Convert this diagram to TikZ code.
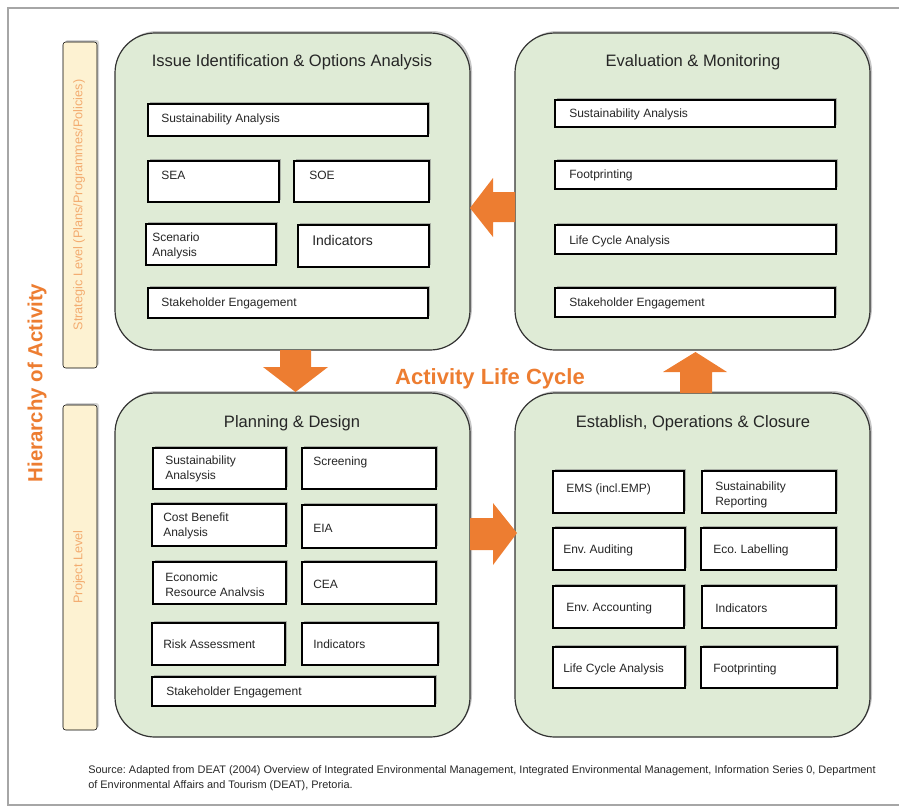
\documentclass[tikz,border=0pt]{standalone}
\usepackage{xcolor}
\usepackage{fontspec}
\setmainfont{Liberation Sans}
\usepackage{tikz}
\usetikzlibrary{shadows}
\frenchspacing

\definecolor{stagegreen}{RGB}{223,235,214}
\definecolor{cycleorange}{RGB}{237,125,49}
\definecolor{levelcream}{RGB}{253,242,210}
\definecolor{leveltext}{RGB}{243,172,112}

\begin{document}
\begin{tikzpicture}[x=0.75pt,y=0.75pt,yscale=-1,xscale=1,
  stagebox/.style={draw=black!80,fill=stagegreen,line width=0.9pt,rounded corners=30pt,
    drop shadow={shadow xshift=1.5pt,shadow yshift=1.5pt,opacity=0.45}},
  itembox/.style={draw=black,fill=white,line width=0.9pt,
    drop shadow={shadow xshift=1.6pt,shadow yshift=1.6pt,opacity=0.55}},
  levelbar/.style={fill=levelcream,rounded corners=2pt,
    drop shadow={shadow xshift=1.5pt,shadow yshift=1.5pt,opacity=0.35}},
  blockarrow/.style={fill=cycleorange,draw=none},
  stagetitle/.style={inner sep=0pt,font=\fontsize{12.4}{14}\selectfont,text=black!85},
  itemtext/.style={anchor=west,inner sep=0pt,align=left,font=\fontsize{9}{11.5}\selectfont,text=black!85},
  leveltitle/.style={inner sep=0pt,rotate=90,font=\fontsize{9.5}{11}\selectfont,text=leveltext}]
%set diagram to the size of the reference
\useasboundingbox (0,0) rectangle (899,808);

%Frame
\draw [color=black!35,line width=0.8pt] (899,8) -- (8,8) -- (8,805) -- (899,805) ;

%Level bars
\draw [levelbar] (63,42) rectangle (97,368) ;
\draw [levelbar] (63,405) rectangle (97,730) ;
% Text Node
\draw (79,205) node [leveltitle] (strategic) {Strategic Level (Plans/Programmes/Policies)};
% Text Node
\draw (79,567) node [leveltitle] (project) {Project Level};
% Text Node
\draw (37,383) node [inner sep=0pt,rotate=90,font=\fontsize{15.3}{17}\selectfont\bfseries,text=cycleorange] (hierarchy) {Hierarchy of Activity};

%Stage boxes
\draw [stagebox] (115,33) rectangle (470,350) ;
\draw [stagebox] (515,33) rectangle (870,350) ;
\draw [stagebox] (115,393) rectangle (470,737) ;
\draw [stagebox] (515,393) rectangle (870,737) ;

%Block arrows
\draw [blockarrow] (280,350) -- (311,350) -- (311,367) -- (328,367) -- (295.5,392) -- (263,367) -- (280,367) -- cycle ;
\draw [blockarrow] (515,192) -- (493,192) -- (493,178) -- (470,208) -- (493,237) -- (493,222) -- (515,222) -- cycle ;
\draw [blockarrow] (680,393) -- (712,393) -- (712,372) -- (727,372) -- (695.5,352) -- (663,372) -- (680,372) -- cycle ;
\draw [blockarrow] (470,518) -- (493,518) -- (493,503) -- (517,533) -- (493,565) -- (493,550) -- (470,550) -- cycle ;

% Text Node
\draw (490,379) node [inner sep=0pt,font=\fontsize{16.5}{18}\selectfont\bfseries,text=cycleorange] (lifecycle) {Activity Life Cycle};

%Issue Identification & Options Analysis
\draw (292,62) node [stagetitle] (issue) {Issue Identification \& Options Analysis};
\draw [itembox] (148,104) rectangle (428,136) ;
\draw (161,119) node [itemtext] (issuesust) {Sustainability Analysis};
\draw [itembox] (148,161) rectangle (279,202) ;
\draw (161,175) node [itemtext] (issuesea) {SEA};
\draw [itembox] (294,161) rectangle (429,202) ;
\draw (309,175) node [itemtext] (issuesoe) {SOE};
\draw [itembox] (146,224) rectangle (276,265) ;
\draw (152,246) node [itemtext,font=\fontsize{9}{11.2}\selectfont] (issuescen) {Scenario\\Analysis};
\draw [itembox] (298,225) rectangle (429,267) ;
\draw (312,240) node [itemtext,font=\fontsize{10.5}{12}\selectfont] (issueind) {Indicators};
\draw [itembox] (148,288) rectangle (428,318) ;
\draw (161,303) node [itemtext] (issuestake) {Stakeholder Engagement};

%Evaluation & Monitoring
\draw (693,62) node [stagetitle] (evaluation) {Evaluation \& Monitoring};
\draw [itembox] (555,100) rectangle (835,127) ;
\draw (569,114) node [itemtext] (evalsust) {Sustainability Analysis};
\draw [itembox] (555,161) rectangle (836,189) ;
\draw (569,175) node [itemtext] (evalfoot) {Footprinting};
\draw [itembox] (555,225) rectangle (836,254) ;
\draw (569,241) node [itemtext] (evallca) {Life Cycle Analysis};
\draw [itembox] (555,288) rectangle (835,317) ;
\draw (569,303) node [itemtext] (evalstake) {Stakeholder Engagement};

%Planning & Design
\draw (292,423) node [stagetitle] (planning) {Planning \& Design};
\draw [itembox] (153,448) rectangle (286,489) ;
\draw (165,469) node [itemtext] (plansust) {Sustainability\\Analsysis};
\draw [itembox] (302,448) rectangle (436,489) ;
\draw (313,462) node [itemtext] (planscreen) {Screening};
\draw [itembox] (152,504) rectangle (286,546) ;
\draw (163,526) node [itemtext] (plancba) {Cost Benefit\\Analysis};
\draw [itembox] (302,505) rectangle (436,548) ;
\draw (313,528) node [itemtext] (planeia) {EIA};
\draw [itembox] (153,562) rectangle (286,604) ;
\draw (165,585) node [itemtext] (planera) {Economic\\Resource Analvsis};
\draw [itembox] (302,562) rectangle (436,604) ;
\draw (313,584) node [itemtext] (plancea) {CEA};
\draw [itembox] (152,623) rectangle (285,665) ;
\draw (163,644) node [itemtext] (planrisk) {Risk Assessment};
\draw [itembox] (302,623) rectangle (438,665) ;
\draw (313,644) node [itemtext] (planind) {Indicators};
\draw [itembox] (152,677) rectangle (435,706) ;
\draw (166,692) node [itemtext] (planstake) {Stakeholder Engagement};

%Establish, Operations & Closure
\draw (693,423) node [stagetitle] (establish) {Establish, Operations \& Closure};
\draw [itembox] (553,471) rectangle (684,513) ;
\draw (566,489) node [itemtext] (estems) {EMS (incl.EMP)};
\draw [itembox] (702,471) rectangle (836,513) ;
\draw (715,495) node [itemtext] (estrep) {Sustainability\\Reporting};
\draw [itembox] (553,528) rectangle (685,570) ;
\draw (563,550) node [itemtext] (estaud) {Env. Auditing};
\draw [itembox] (701,528) rectangle (836,570) ;
\draw (713,550) node [itemtext] (estlab) {Eco. Labelling};
\draw [itembox] (553,586) rectangle (684,628) ;
\draw (566,608) node [itemtext] (estacc) {Env. Accounting};
\draw [itembox] (702,586) rectangle (836,628) ;
\draw (715,608) node [itemtext] (estind) {Indicators};
\draw [itembox] (553,647) rectangle (685,688) ;
\draw (563,669) node [itemtext] (estlca) {Life Cycle Analysis};
\draw [itembox] (701,647) rectangle (837,688) ;
\draw (713,669) node [itemtext] (estfoot) {Footprinting};

%Source
\draw (88,778) node [anchor=west,inner sep=0pt,align=left,font=\fontsize{8.2}{11}\selectfont,text=black!85] (source) {Source: Adapted from DEAT (2004) Overview of Integrated Environmental Management, Integrated Environmental Management, Information Series 0, Department\\of Environmental Affairs and Tourism (DEAT), Pretoria.};

\end{tikzpicture}
\end{document}
